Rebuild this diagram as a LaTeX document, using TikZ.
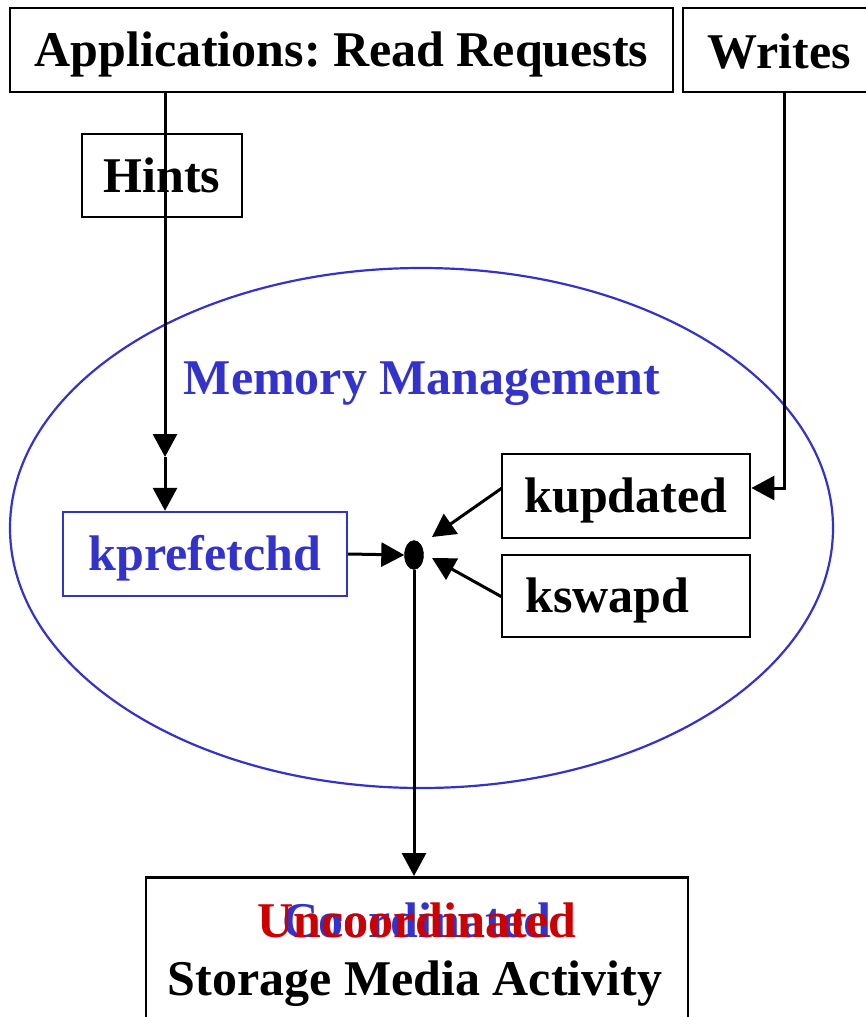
\documentclass[tikz,border=0pt]{standalone}
\usepackage{fontspec}
\setmainfont{Liberation Serif}
\usetikzlibrary{arrows.meta,shapes.geometric}
\definecolor{mmblue}{HTML}{3333CC}
\definecolor{ucred}{HTML}{CC0000}
\frenchspacing
\tikzset{
  box/.style={draw=black, line width=2.8pt, rectangle, inner sep=0pt,
    text height=33pt, text depth=0pt, font=\fontsize{50}{60}\selectfont\bfseries},
  bluebox/.style={box, draw=mmblue, line width=2.4pt, text=mmblue},
  lbl/.style={inner sep=0pt, anchor=base, font=\fontsize{50}{60}\selectfont\bfseries},
  flow/.style={draw=black, line width=3pt, -{Triangle[length=23pt,width=24pt]}},
}
\begin{document}
\begin{tikzpicture}[x=1pt, y=-1pt]
\useasboundingbox (0,0) rectangle (865,1017);

% memory management region
\draw[mmblue, line width=2.2pt] (421.5,528) ellipse [x radius=411.5, y radius=260];
\node[lbl, text=mmblue] (mmtitle) at (422,394) {Memory Management};

% sources at the top
\node[box, minimum width=663pt, minimum height=84pt] (apps) at (341.5,50) {Applications: Read Requests};
\node[box, minimum width=192pt, minimum height=84pt] (writes) at (779,50) {};
\node[lbl] (writeslbl) at (779,68) {Writes};
\node[box, minimum width=160pt, minimum height=83pt] (hints) at (162,175.5) {Hints};

% kernel threads
\node[bluebox, minimum width=284pt, minimum height=84pt] (kpf) at (205,554) {kprefetchd};
\node[box, minimum width=248pt, minimum height=84pt] (kupd) at (626,496) {kupdated};
\node[box, minimum width=248pt, minimum height=82pt] (kswp) at (626,596) {};
\node[lbl, anchor=base west] (kswplbl) at (525,612) {kswapd};

% merge point
\node[draw=black, fill=black, ellipse, inner sep=0pt, minimum width=19pt, minimum height=29pt] (dot) at (414,555) {};

% storage box (runs past the lower edge)
\node[box, minimum width=542pt, minimum height=170pt, anchor=north] (disk) at (417,876) {};
\node[lbl, text=mmblue] (coord) at (417,937) {Coordinated};
\node[lbl, text=ucred] (uncoord) at (417,937) {Uncoordinated};
\node[lbl] (storage) at (415,995) {Storage Media Activity};

% connectors
\coordinate (hmid) at (165,457);
\draw[flow] (apps.south -| hmid) -- (hmid);
\draw[flow] (hmid) -- (kpf.north -| hmid);

\coordinate (wturn) at (784,488);
\draw[flow] (writes.south -| wturn) -- (wturn) -- (kupd.east |- wturn);

\draw[flow] (kpf.east) -- (dot.west);
\coordinate (kupdout) at (502,488);
\coordinate (kupdin) at (432,537);
\draw[flow] (kupdout) -- (kupdin);
\coordinate (kswpout) at (502,597);
\coordinate (kswpin) at (432,558);
\draw[flow] (kswpout) -- (kswpin);

\draw[flow] (dot.south) -- (disk.north -| dot.south);
\end{tikzpicture}
\end{document}
